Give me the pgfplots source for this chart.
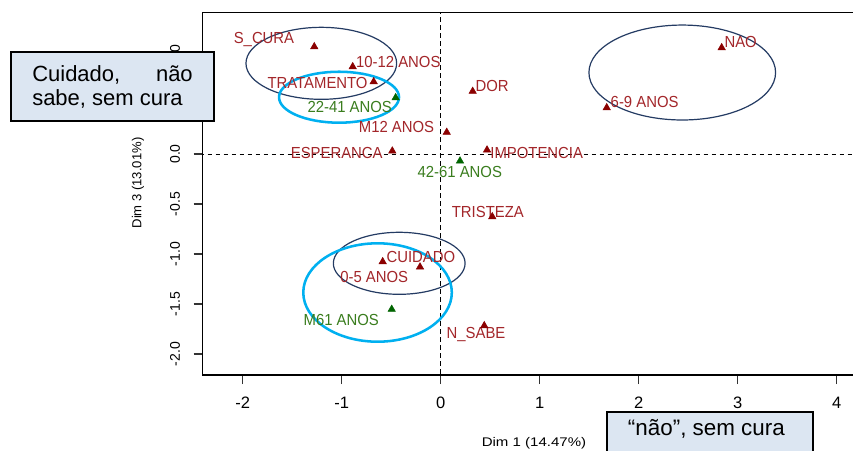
\documentclass[border=0pt]{standalone}
\usepackage{pgfplots}
\pgfplotsset{compat=1.18}
\usepackage{fontspec}
\setmainfont{Liberation Sans}
\newfontfamily\lblfont[FakeStretch=0.93]{Liberation Sans}
\newfontfamily\dimfont[FakeStretch=1.2]{Liberation Sans}

\definecolor{ptred}{HTML}{8B0000}
\definecolor{txtred}{HTML}{A3262A}
\definecolor{ptgreen}{HTML}{006400}
\definecolor{txtgreen}{HTML}{3A7D1E}
\definecolor{ellnavy}{HTML}{243B63}
\definecolor{ellcyan}{HTML}{00B0F0}
\definecolor{boxfill}{HTML}{DCE6F2}

\newcommand\lbl{\lblfont\fontsize{12}{14}\selectfont}

% category coordinates on dimensions 1 and 3
\pgfplotstableread{
x      y
-1.277  1.073
-0.889  0.873
-0.677  0.723
 0.061  0.217
-0.489  0.030
 0.323  0.627
 0.468  0.040
 1.677  0.463
 2.838  1.063
 0.521 -0.627
-0.586 -1.077
-0.209 -1.130
 0.440 -1.717
}\catpts

% age groups (supplementary)
\pgfplotstableread{
x      y
-0.455  0.563
 0.195 -0.070
-0.495 -1.553
}\agepts

\begin{document}
\begin{tikzpicture}[x=0.75pt,y=0.75pt]
\clip (0,0) rectangle (853,450);
\fill[white] (0,0) rectangle (853,450);
\begin{axis}[
  at={(152.03pt,56.25pt)}, anchor=south west,
  scale only axis, width=492.2pt, height=271.7pt,
  xmin=-2.404, xmax=4.225, ymin=-2.21, ymax=1.413,
  xtick={-2,-1,0,1,2,3,4},
  ytick={-2,-1.5,-1,-0.5,0,0.5,1},
  tick pos=left, tick align=outside,
  major tick length=6.75pt,
  axis line style={line width=0.9pt},
  tick style={line width=0.8pt,black!80},
  /pgf/number format/assume math mode=true,
  xticklabel style={font=\fontsize{12.4}{14}\selectfont, anchor=center, yshift=-14pt},
  yticklabel style={font=\fontsize{10.5}{12}\selectfont, rotate=90, anchor=center, yshift=13.9pt,
    /pgf/number format/.cd, fixed, fixed zerofill, precision=1},
]
% reference lines through the origin
\draw[dashed, line width=0.6pt, dash pattern=on 3.5pt off 2.5pt] (axis cs:0,-3) -- (axis cs:0,2);
\draw[dashed, line width=0.6pt, dash pattern=on 3.5pt off 2.5pt] (axis cs:-3,0) -- (axis cs:5,0);

% groupings
\draw[ellnavy, line width=0.9pt] (axis cs:-1.206,0.907) ellipse [x radius=56.5pt, y radius=27pt];
\draw[ellcyan, line width=1.9pt] (axis cs:-1.027,0.568) ellipse [x radius=45pt, y radius=19.1pt];
\draw[ellnavy, line width=0.9pt] (axis cs:2.44,0.815) ellipse [x radius=70pt, y radius=35.6pt];
\draw[ellnavy, line width=0.9pt] (axis cs:-0.419,-1.093) ellipse [x radius=49.4pt, y radius=23.25pt];
\draw[ellcyan, line width=1.9pt] (axis cs:-0.638,-1.385) ellipse [x radius=55.7pt, y radius=36.9pt];

\addplot[only marks, mark=triangle*, mark size=3.2pt, color=ptred] table[x=x,y=y] {\catpts};
\addplot[only marks, mark=triangle*, mark size=3.2pt, color=ptgreen] table[x=x,y=y] {\agepts};

% category names
\begin{scope}[every node/.style={inner sep=0pt, text=txtred, font=\lbl}]
\node at (axis cs:-1.785,1.147) {S\_CURA};
\node at (axis cs:-0.428,0.923) {10-12 ANOS};
\node at (axis cs:-1.244,0.707) {TRATAMENTO};
\node at (axis cs:-0.446,0.273) {M12 ANOS};
\node at (axis cs:-1.050,0.007) {ESPERANCA};
\node at (axis cs:0.520,0.680) {DOR};
\node at (axis cs:0.970,0.013) {IMPOTENCIA};
\node at (axis cs:2.060,0.523) {6-9 ANOS};
\node at (axis cs:3.030,1.117) {NAO};
\node at (axis cs:0.476,-0.583) {TRISTEZA};
\node at (axis cs:-0.200,-1.033) {CUIDADO};
\node at (axis cs:-0.672,-1.233) {0-5 ANOS};
\node at (axis cs:0.357,-1.800) {N\_SABE};
\end{scope}
\begin{scope}[every node/.style={inner sep=0pt, text=txtgreen, font=\lbl}]
\node at (axis cs:-0.919,0.473) {22-41 ANOS};
\node at (axis cs:0.193,-0.177) {42-61 ANOS};
\node at (axis cs:-1.004,-1.660) {M61 ANOS};
\end{scope}
\end{axis}

% axis titles
\node[inner sep=0pt, font=\dimfont\fontsize{9.4}{11}\selectfont] at (534,7) {Dim 1 (14.47\%)};
\node[inner sep=0pt, rotate=90, font=\fontsize{9.8}{11}\selectfont] at (138,267) {Dim 3 (13.01\%)};

% annotation boxes
\filldraw[fill=boxfill, draw=black, line width=1.5pt] (11,398) rectangle (214,329);
\begin{scope}[every node/.style={inner sep=0pt, font=\fontsize{16.5}{20}\selectfont}]
\node[anchor=base west] at (32,368) {Cuidado,};
\node[anchor=base east] at (193,368) {não};
\node[anchor=base west] at (32,344) {sabe, sem cura};
\end{scope}
\filldraw[fill=boxfill, draw=black, line width=1.5pt] (606.7,38.3) rectangle (813,-20);
\node[anchor=base west, inner sep=0pt, font=\fontsize{16.8}{20}\selectfont] at (627.7,15) {“não”, sem cura};
\end{tikzpicture}
\end{document}
